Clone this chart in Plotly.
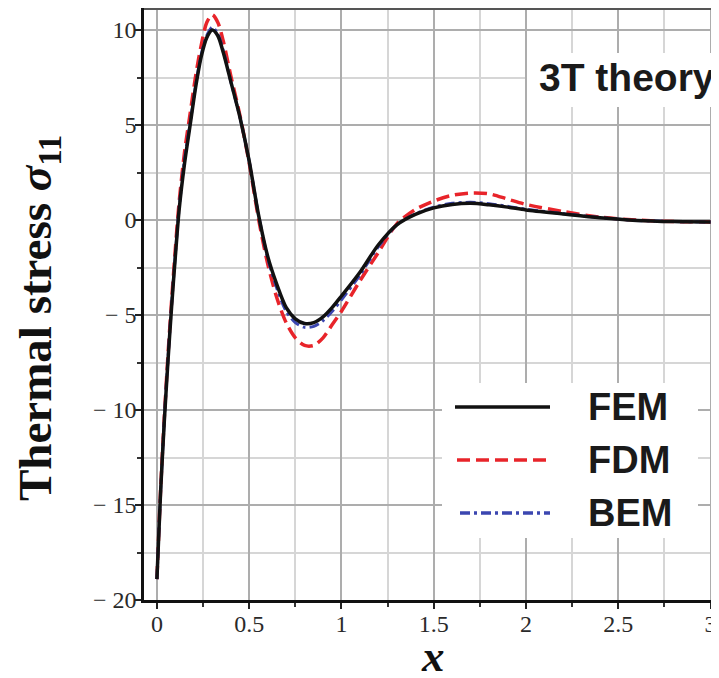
import plotly.graph_objects as go

x_vals = [0, 0.02, 0.04, 0.06, 0.08, 0.1, 0.12, 0.15, 0.18, 0.21, 0.24, 0.27, 0.3, 0.33, 0.36, 0.4,
          0.45, 0.5, 0.55, 0.6, 0.65, 0.7, 0.75, 0.8, 0.85, 0.9, 0.95, 1.0, 1.1, 1.2, 1.3, 1.4, 1.5,
          1.6, 1.7, 1.8, 1.9, 2.0, 2.2, 2.4, 2.6, 2.8, 3.0]

fem = [-18.9, -14.3, -10.6, -7.4, -4.5, -1.9, 0.5, 3.0, 5.0, 7.0, 8.6, 9.6, 10.0, 9.7, 8.8, 7.3,
       5.4, 3.1, 0.3, -1.9, -3.4, -4.6, -5.2, -5.45, -5.4, -5.1, -4.6, -4.0, -2.75, -1.3, -0.25, 0.3, 0.64,
       0.82, 0.88, 0.8, 0.68, 0.53, 0.32, 0.12, -0.02, -0.08, -0.1]

fdm = [-18.9, -14.2, -10.4, -7.1, -4.2, -1.5, 0.9, 3.6, 5.6, 7.6, 9.2, 10.4, 10.8, 10.4, 9.4, 7.6,
       5.5, 3.0, 0.1, -2.3, -4.1, -5.4, -6.2, -6.6, -6.6, -6.2, -5.5, -4.8, -3.2, -1.7, -0.2, 0.55, 1.0,
       1.3, 1.42, 1.38, 1.1, 0.82, 0.45, 0.15, 0.0, -0.08, -0.1]

bem = [-18.9, -14.3, -10.5, -7.3, -4.4, -1.8, 0.6, 3.2, 5.1, 7.1, 8.7, 9.7, 10.15, 9.8, 8.9, 7.3,
       5.4, 3.1, 0.3, -2.0, -3.6, -4.8, -5.4, -5.65, -5.6, -5.3, -4.8, -4.2, -2.9, -1.4, -0.25, 0.32, 0.68,
       0.88, 0.93, 0.86, 0.72, 0.57, 0.34, 0.13, -0.02, -0.08, -0.1]

x_ticks = [0, 0.5, 1, 1.5, 2, 2.5, 3]
x_ticklabels = ["0", "0.5", "1", "1.5", "2", "2.5", "3"]
y_ticks = [10, 5, 0, -5, -10, -15, -20]
y_ticklabels = ["10", "5", "0", "\u2212 5", "\u2212 10", "\u2212 15", "\u2212 20"]

OFF = 8  # page body margin
W, H = 719 - OFF, 678 - OFF
# plot area in screen pixels: left 144, right 718, top 8, bottom 600
L, R, T, B = 144 - OFF, 1, 8 - OFF, 678 - 600
PW, PH = W - L - R, H - T - B


def px(xs):
    return (xs - OFF - L) / PW


def py(ys):
    return (H - B - (ys - OFF)) / PH


fig = go.Figure()
fig.add_trace(go.Scatter(x=x_vals, y=fdm, mode="lines", name="FDM",
                         line=dict(color="#e8242a", width=3.5, dash="13px,6px", shape="spline", smoothing=0.8)))
fig.add_trace(go.Scatter(x=x_vals, y=bem, mode="lines", name="BEM",
                         line=dict(color="#3b46b0", width=3, dash="10px,4px,3px,4px", shape="spline", smoothing=0.8)))
fig.add_trace(go.Scatter(x=x_vals, y=fem, mode="lines", name="FEM",
                         line=dict(color="#111111", width=3.5, shape="spline", smoothing=0.8)))

shapes = []
shapes.append(dict(type="line", xref="paper", yref="paper", x0=0, x1=1, y0=py(9), y1=py(9),
                   line=dict(color="#555555", width=2), layer="above"))
shapes.append(dict(type="rect", xref="paper", yref="paper", x0=px(527), x1=px(719), y0=py(107), y1=py(53),
                   fillcolor="white", line=dict(width=0), layer="above"))
shapes.append(dict(type="rect", xref="paper", yref="paper", x0=px(442), x1=px(698), y0=py(538), y1=py(383),
                   fillcolor="white", line=dict(width=0), layer="above"))
legend_items = [("FEM", "#111111", "solid", 407, 455),
                ("FDM", "#e8242a", "13px,6px", 460, 457),
                ("BEM", "#3b46b0", "10px,4px,3px,4px", 513, 460)]
annotations = []
for name, col, dash, yy, x0 in legend_items:
    shapes.append(dict(type="line", xref="paper", yref="paper", x0=px(x0), x1=px(550), y0=py(yy), y1=py(yy),
                       line=dict(color=col, width=3.5, dash=dash), layer="above"))
    annotations.append(dict(xref="paper", yref="paper", x=px(586), y=py(yy), xanchor="left", yanchor="middle",
                            text="<b>%s</b>" % name, showarrow=False,
                            font=dict(family="Liberation Sans, Arial", size=38, color="#1a1a1a")))

annotations.append(dict(xref="paper", yref="paper", x=px(627), y=py(78), xanchor="center", yanchor="middle",
                        text="<b>3T theory</b>", showarrow=False,
                        font=dict(family="Liberation Sans, Arial", size=39, color="#1a1a1a")))
annotations.append(dict(xref="paper", yref="paper", x=px(38), y=py(318), xanchor="center", yanchor="middle",
                        text="<b>Thermal stress <i>σ</i><sub>11</sub></b>", textangle=-90, showarrow=False,
                        font=dict(family="Liberation Serif, Times New Roman", size=47, color="#111111")))
annotations.append(dict(xref="paper", yref="paper", x=px(433), y=py(656), xanchor="center", yanchor="middle",
                        text="<b><i>x</i></b>", showarrow=False,
                        font=dict(family="Liberation Serif, Times New Roman", size=45, color="#111111")))

axis_font = dict(family="Liberation Serif, Times New Roman", size=24, color="#2a2a2a")

fig.update_layout(
    width=W, height=H,
    margin=dict(l=L, r=R, t=T, b=B, pad=0, autoexpand=False),
    paper_bgcolor="white", plot_bgcolor="white",
    showlegend=False,
    shapes=shapes, annotations=annotations,
    xaxis=dict(range=[-0.07, 3.04], tickvals=x_ticks, ticktext=x_ticklabels, tickfont=axis_font,
               ticklabelstandoff=-6,
               showgrid=True, gridcolor="#adadad", gridwidth=2, zeroline=False,
               showline=True, linecolor="#111111", linewidth=2.5,
               ticks="outside", ticklen=6, tickwidth=2, tickcolor="#222222",
               minor=dict(dtick=0.25, tick0=0, showgrid=True, gridcolor="#d6d6d6", gridwidth=1.5,
                          ticks="outside", ticklen=4, tickwidth=1.5, tickcolor="#333333")),
    yaxis=dict(range=[-20, 11.16], tickvals=y_ticks, ticktext=y_ticklabels, tickfont=axis_font,
               ticklabelstandoff=-6,
               showgrid=True, gridcolor="#adadad", gridwidth=2, zeroline=False,
               showline=True, linecolor="#111111", linewidth=2.5,
               ticks="outside", ticklen=6, tickwidth=2, tickcolor="#222222",
               minor=dict(dtick=2.5, tick0=0, showgrid=True, gridcolor="#d6d6d6", gridwidth=1.5,
                          ticks="outside", ticklen=4, tickwidth=1.5, tickcolor="#333333")),
)

fig.write_html("out.html")
